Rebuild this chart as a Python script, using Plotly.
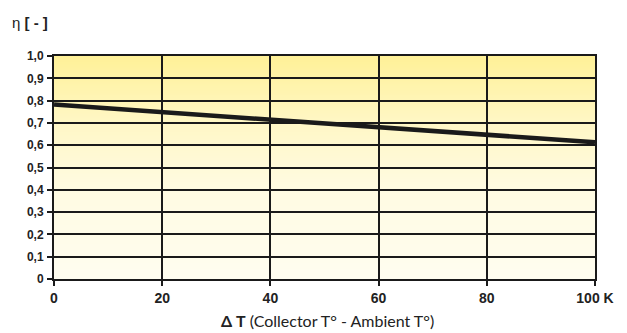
import base64, struct, zlib
import plotly.graph_objects as go

# ---- data ----
delta_t = [0, 20, 40, 60, 80, 100]
efficiency = [0.782, 0.749, 0.716, 0.683, 0.649, 0.613]
x_tick_vals = [0, 20, 40, 60, 80, 100]
x_tick_text = ["0", "20", "40", "60", "80", "100 K"]
y_tick_vals = [0, 0.1, 0.2, 0.3, 0.4, 0.5, 0.6, 0.7, 0.8, 0.9, 1.0]
y_tick_text = ["0", "0,1", "0,2", "0,3", "0,4", "0,5", "0,6", "0,7", "0,8", "0,9", "1,0"]


# ---- gradient background image (top yellow -> bottom cream) ----
def gradient_png(stops, h=240, w=2):
    raw = b""
    for r in range(h):
        t = r / (h - 1)
        for k in range(len(stops) - 1):
            t0, c0 = stops[k]
            t1, c1 = stops[k + 1]
            if t0 <= t <= t1:
                f = (t - t0) / (t1 - t0)
                c = [round(c0[i] + (c1[i] - c0[i]) * f) for i in range(3)]
                break
        raw += b"\x00" + bytes(c) * w
    def chunk(tag, data):
        return struct.pack(">I", len(data)) + tag + data + struct.pack(">I", zlib.crc32(tag + data) & 0xffffffff)
    png = b"\x89PNG\r\n\x1a\n"
    png += chunk(b"IHDR", struct.pack(">IIBBBBB", w, h, 8, 2, 0, 0, 0))
    png += chunk(b"IDAT", zlib.compress(raw))
    png += chunk(b"IEND", b"")
    return "data:image/png;base64," + base64.b64encode(png).decode()

bg = gradient_png([(0.0, (255, 241, 152)), (0.3, (255, 247, 198)),
                   (0.6, (255, 251, 226)), (1.0, (255, 253, 240))])

ink = "#1a1a1a"
fig = go.Figure()
fig.add_trace(go.Scatter(x=delta_t, y=efficiency, mode="lines",
                         line=dict(color=ink, width=4.5), hoverinfo="skip",
                         showlegend=False))

fig.add_layout_image(dict(source=bg, xref="x", yref="y", x=0, y=1, sizex=100, sizey=1,
                          sizing="stretch", xanchor="left", yanchor="top", layer="below"))

axis_common = dict(showline=True, linecolor=ink, linewidth=2, mirror=True,
                   showgrid=True, gridcolor=ink, gridwidth=2, zeroline=False,
                   ticks="outside", ticklen=5, tickwidth=2, tickcolor=ink)

fig.update_xaxes(range=[0, 100], tickvals=x_tick_vals, ticktext=x_tick_text,
                 tickfont=dict(family="Liberation Sans", size=14, color="#222", weight="bold"),
                 **axis_common)
fig.update_yaxes(range=[0, 1], tickvals=y_tick_vals, ticktext=y_tick_text,
                 tickfont=dict(family="Liberation Sans", size=12, color="#222", weight="bold"),
                 ticklabelstandoff=1, **axis_common)

fig.add_annotation(text="η <b>[ - ]</b>", xref="paper", yref="paper", x=-0.082, y=1.152,
                   xanchor="left", yanchor="middle", showarrow=False,
                   font=dict(family="Liberation Sans", size=15, color="#222"))
fig.add_annotation(text="<b>Δ T</b> (Collector T° - Ambient T°)", xref="paper", yref="paper",
                   x=0.505, y=-0.186, xanchor="center", yanchor="middle", showarrow=False,
                   font=dict(family="Lato", size=16, color="#222"))

# page body has an 8px margin: figure top-left sits at (8, 8)
fig.update_layout(width=619, height=325, margin=dict(l=46, r=32, t=48, b=54),
                  paper_bgcolor="white", plot_bgcolor="rgba(0,0,0,0)",
                  showlegend=False)

fig.write_html("out.html")
